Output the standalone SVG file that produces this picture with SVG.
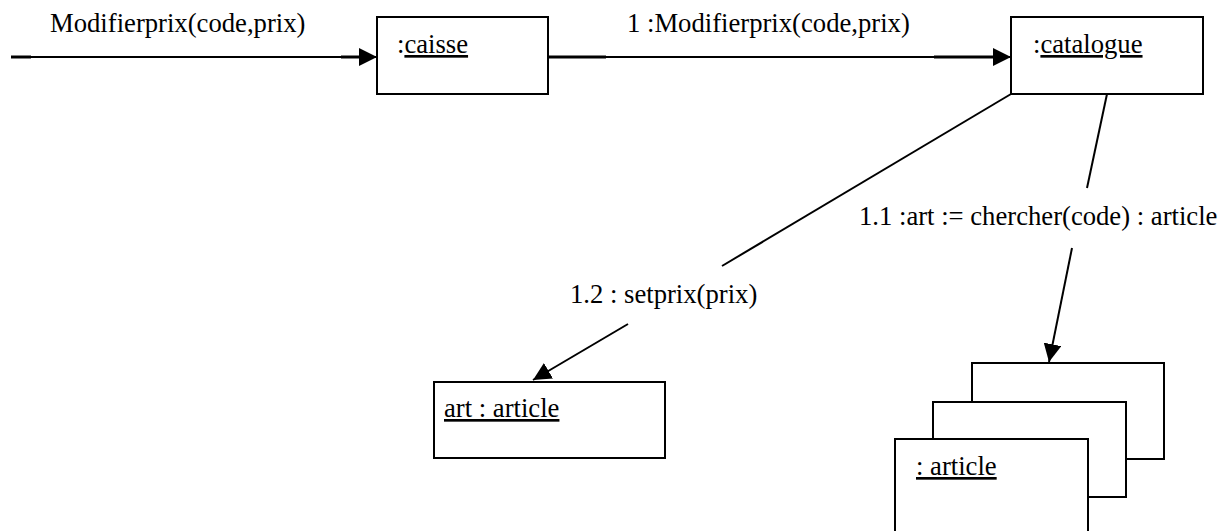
<svg xmlns="http://www.w3.org/2000/svg" width="1222" height="531" viewBox="0 0 1222 531" font-family="'Liberation Serif'" font-size="26.67">
<style>
.box{fill:#fff;stroke:#000;stroke-width:2}
.ln{stroke:#000;stroke-width:2;fill:none}
.lnk{stroke:#000;stroke-width:3;fill:none}
.u{text-decoration:underline}
</style>
<defs>
<marker id="arrowhead" markerUnits="userSpaceOnUse" markerWidth="18" markerHeight="18" viewBox="0 0 16 16" refX="16" refY="8" orient="auto">
<path d="M0,0 L16,8 L0,16 Z" fill="#000"/>
</marker>
</defs>
<rect width="1222" height="531" fill="#fff"/>
<g id="node-caisse">
<rect class="box" x="377" y="17" width="171" height="77"/>
<text x="397" y="53" font-family="'Liberation Serif'" font-size="26.67">:<tspan class="u">caisse</tspan></text>
</g>
<g id="node-catalogue">
<rect class="box" x="1011" y="17" width="192" height="77"/>
<text x="1033" y="53" font-family="'Liberation Serif'" font-size="26.67">:<tspan class="u">catalogue</tspan></text>
</g>
<g id="node-art">
<rect class="box" x="434" y="382" width="231" height="76"/>
<text class="u" x="444" y="417" font-family="'Liberation Serif'" font-size="26.67">art : article</text>
</g>
<g id="node-articles">
<rect class="box" x="972" y="363" width="192" height="96"/>
<rect class="box" x="933" y="402" width="193" height="95"/>
<rect class="box" x="895" y="439" width="193" height="100"/>
<text class="u" x="916" y="475" font-family="'Liberation Serif'" font-size="26.67">: article</text>
</g>
<g id="links">
<line class="ln" x1="11" y1="57" x2="377" y2="57" marker-end="url(#arrowhead)"/>
<line class="lnk" x1="11" y1="57" x2="31" y2="57"/>
<line class="lnk" x1="341" y1="57" x2="362" y2="57"/>
<text x="50" y="32" font-family="'Liberation Serif'" font-size="26.67">Modifierprix(code,prix)</text>
<line class="ln" x1="548" y1="57" x2="1011" y2="57" marker-end="url(#arrowhead)"/>
<line class="lnk" x1="548" y1="57" x2="606" y2="57"/>
<line class="lnk" x1="934" y1="57" x2="996" y2="57"/>
<text x="627" y="32" font-family="'Liberation Serif'" font-size="26.67">1 :Modifierprix(code,prix)</text>
<line class="ln" x1="1011" y1="94" x2="722" y2="266"/>
<line class="ln" x1="628" y1="324" x2="533" y2="380" marker-end="url(#arrowhead)"/>
<text x="570" y="303" font-family="'Liberation Serif'" font-size="26.67">1.2 : setprix(prix)</text>
<line class="ln" x1="1107" y1="94" x2="1087" y2="188"/>
<line class="ln" x1="1072" y1="248" x2="1049" y2="362" marker-end="url(#arrowhead)"/>
<text x="859" y="225" font-family="'Liberation Serif'" font-size="26.67">1.1 :art := chercher(code) : article</text>
</g>
</svg>
